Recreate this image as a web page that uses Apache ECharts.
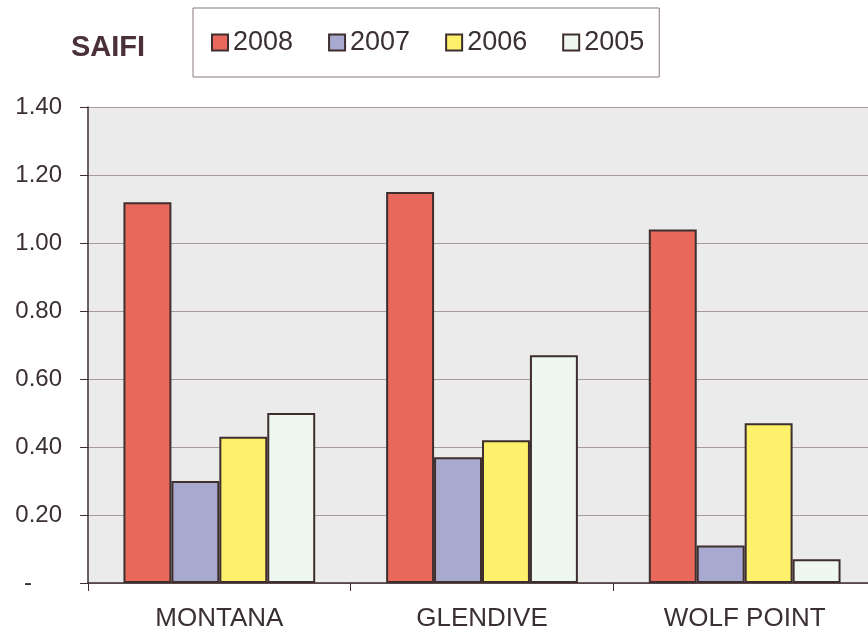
<!DOCTYPE html>
<html>
<head>
<meta charset="utf-8">
<script src="https://cdn.jsdelivr.net/npm/echarts@6/dist/echarts.min.js"></script>
<style>
html,body{margin:0;padding:0;background:#fff;overflow:hidden;}
#c{width:876px;height:637px;}
</style>
</head>
<body>
<div id="c"></div>
<script>
var categories = ['MONTANA', 'GLENDIVE', 'WOLF POINT'];
var seriesNames = ['2008', '2007', '2006', '2005'];
var v2008 = [1.12, 1.15, 1.04];
var v2007 = [0.30, 0.37, 0.11];
var v2006 = [0.43, 0.42, 0.47];
var v2005 = [0.50, 0.67, 0.07];
var yTicks = [0, 0.2, 0.4, 0.6, 0.8, 1.0, 1.2, 1.4];

var colors = ['#e8695c', '#a8a9cf', '#fdf16c', '#eef7f0'];
var values = [v2008, v2007, v2006, v2005];
var textColor = '#3a3032';
var font = 'Liberation Sans, Arial, sans-serif';

var chart = echarts.init(document.getElementById('c'));
var series = seriesNames.map(function (n, i) {
  return {
    name: n,
    type: 'bar',
    data: values[i],
    barGap: '0%',
    barCategoryGap: '27%',
    itemStyle: { color: colors[i], borderColor: '#3e2e2e', borderWidth: 2 }
  };
});

chart.setOption({
  animation: false,
  backgroundColor: '#ffffff',
  title: {
    text: 'SAIFI',
    left: 66,
    top: 28,
    textStyle: { fontFamily: font, fontWeight: 'bold', fontSize: 29, color: '#4a3038' }
  },
  legend: {
    left: 193,
    top: 8,
    data: seriesNames,
    icon: 'rect',
    itemWidth: 16,
    itemHeight: 16,
    itemGap: 35,
    padding: [21, 15, 21, 18],
    borderColor: '#8a7a7a',
    borderWidth: 1,
    backgroundColor: '#ffffff',
    textStyle: { fontFamily: font, fontSize: 27, color: textColor }
  },
  grid: {
    left: 88,
    right: 0,
    top: 107,
    bottom: 54,
    show: true,
    backgroundColor: '#ebebeb',
    borderWidth: 0
  },
  xAxis: {
    type: 'category',
    data: categories,
    axisLine: { lineStyle: { color: '#3e2e2e', width: 1.5 } },
    axisTick: { show: true, length: 8, lineStyle: { color: '#3e2e2e' } },
    axisLabel: { fontFamily: font, fontSize: 26, color: textColor, margin: 23 }
  },
  yAxis: {
    type: 'value',
    min: yTicks[0],
    max: yTicks[yTicks.length - 1],
    interval: 0.2,
    axisLine: { show: true, lineStyle: { color: '#3e2e2e', width: 1.5 } },
    axisTick: { show: true, length: 8, lineStyle: { color: '#3e2e2e' } },
    splitLine: { lineStyle: { color: '#a89a9a', width: 1 } },
    axisLabel: {
      fontFamily: font, fontSize: 24, color: textColor, margin: 26,
      formatter: function (v) {
        return v === 0 ? '{d|-}' : v.toFixed(2);
      },
      rich: { d: { fontFamily: font, fontSize: 24, color: textColor, padding: [0, 30, 0, 0] } }
    }
  },
  series: series
});
</script>
</body>
</html>
